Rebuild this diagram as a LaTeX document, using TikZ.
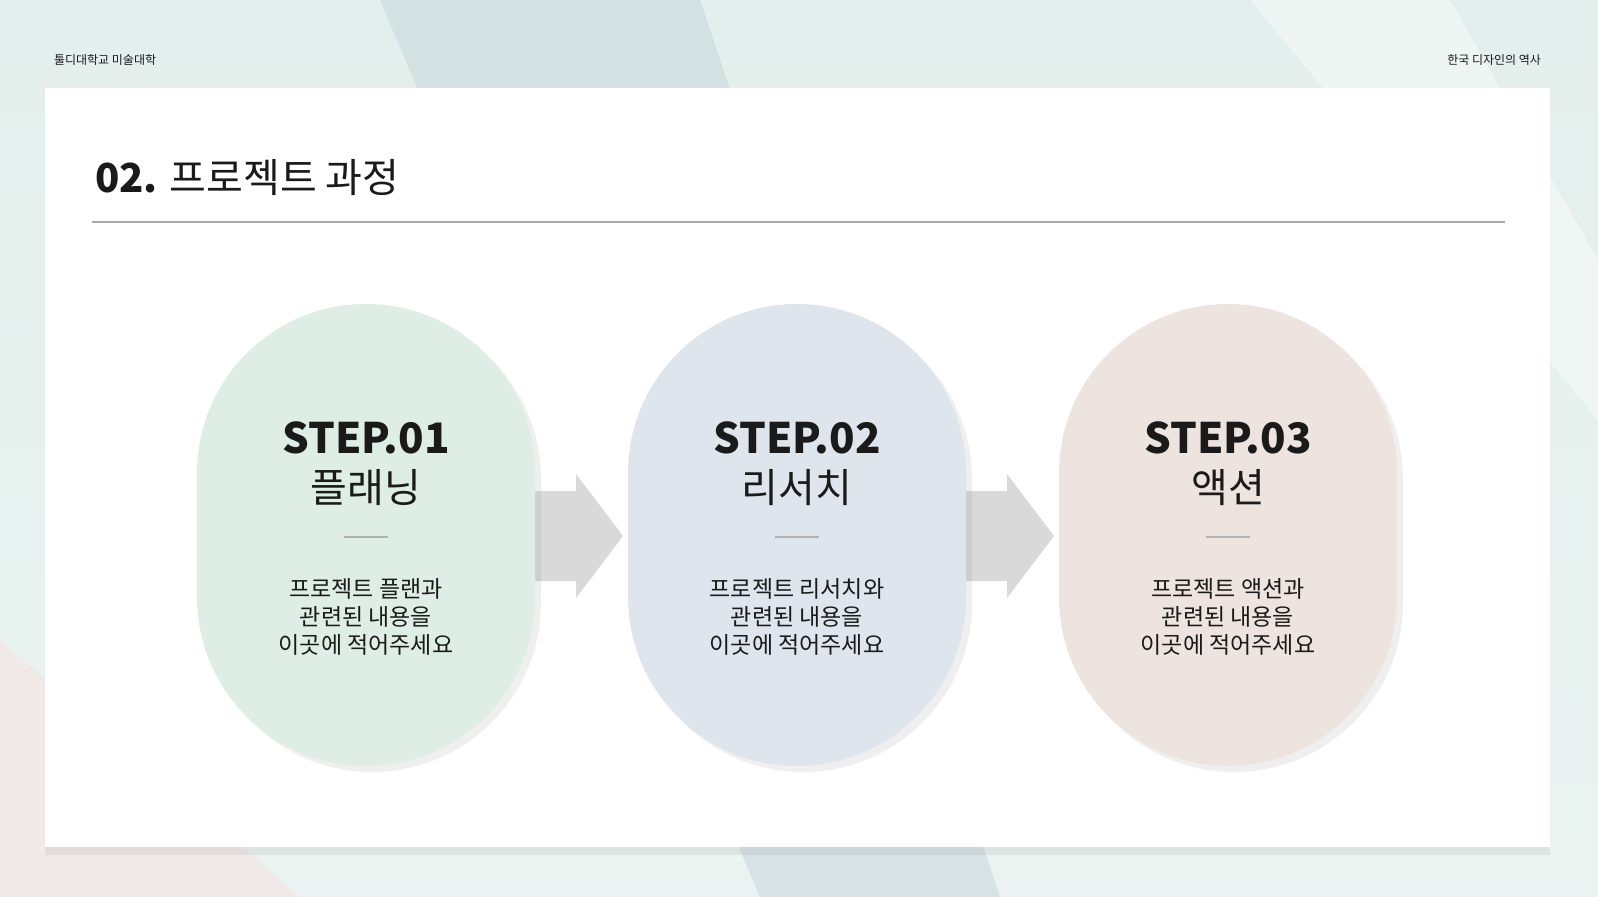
\documentclass[tikz,border=0pt]{standalone}
\usepackage{fontspec}
\setmainfont{Noto Sans CJK KR}
\usetikzlibrary{positioning,calc,shadows}

\definecolor{bgteal}{HTML}{DCEBE7}
\definecolor{bgblue}{HTML}{C9D8DE}
\definecolor{pillgreen}{HTML}{DFEDE7}
\definecolor{pillblue}{HTML}{DEE5EC}
\definecolor{pillrose}{HTML}{EDE3DF}
\definecolor{arrowgray}{HTML}{D9D9D9}
\definecolor{textdark}{HTML}{1A1A1A}

\begin{document}
\begin{tikzpicture}[
    x=0.5pt, y=-0.5pt,
    pill/.style={rectangle, minimum width=169pt, minimum height=231pt, rounded corners=84.5pt,
        drop shadow={shadow xshift=3pt, shadow yshift=-3pt, opacity=0.12}},
    steptitle/.style={font=\bfseries\fontsize{21}{24}\selectfont, text=textdark},
    stepname/.style={font=\fontsize{20}{24}\selectfont, text=textdark},
    stepbody/.style={font=\fontsize{11.5}{14}\selectfont, text=textdark, align=center},
    header/.style={font=\fontsize{6}{7}\selectfont, text=textdark}
]

% Background
\useasboundingbox (0,0) rectangle (1598,897);
\shade[top color=bgteal!80!white, bottom color=bgteal!60!white] (0,0) rectangle (1598,897);
\fill[bgblue, opacity=0.6] (380,0) -- (700,0) -- (1000,897) -- (760,897) -- cycle;
\fill[white, opacity=0.4] (1250,0) -- (1450,0) -- (1598,260) -- (1598,420) -- cycle;
\fill[pink!60, opacity=0.35] (0,640) -- (300,897) -- (0,897) -- cycle;

% Header
\node[header, anchor=west] (uni) at (47,60) {툴디대학교 미술대학};
\node[header, anchor=east] (course) at (1548,60) {한국 디자인의 역사};

% Panel
\node[fill=white, inner sep=0pt, minimum width=752.5pt, minimum height=379.5pt,
    drop shadow={shadow xshift=0pt, shadow yshift=-4pt, opacity=0.12}] (panel) at (797.5,467.5) {};

% Title
\node[anchor=west, font=\fontsize{20}{24}\selectfont, text=textdark] (title) at (88,178)
    {\textbf{02.} 프로젝트 과정};
\draw[gray!70, line width=0.6pt] (92,222) -- (1505,222);

% Arrows
\foreach \dx in {0,431} {
  \fill[arrowgray] (534+\dx,491) -- (576+\dx,491) -- (576+\dx,474) -- (623+\dx,536)
      -- (576+\dx,598) -- (576+\dx,581) -- (534+\dx,581) -- cycle;
}

% Steps
\node[pill, fill=pillgreen] (p1) at (366,535) {};
\node[pill, fill=pillblue] (p2) at (797,535) {};
\node[pill, fill=pillrose] (p3) at (1228,535) {};

\foreach \p/\num/\name/\first in {p1/01/플래닝/프로젝트 플랜과, p2/02/리서치/프로젝트 리서치와, p3/03/액션/프로젝트 액션과} {
  \node[steptitle] (\p t) at ($(\p)+(0,-97)$) {STEP.\num};
  \node[stepname] (\p n) at ($(\p)+(0,-47)$) {\name};
  \draw[gray!60, line width=0.6pt] ($(\p)+(-22,2)$) -- ($(\p)+(22,2)$);
  \node[stepbody] (\p b) at ($(\p)+(0,82)$) {\first\\관련된 내용을\\이곳에 적어주세요};
}

\end{tikzpicture}
\end{document}
